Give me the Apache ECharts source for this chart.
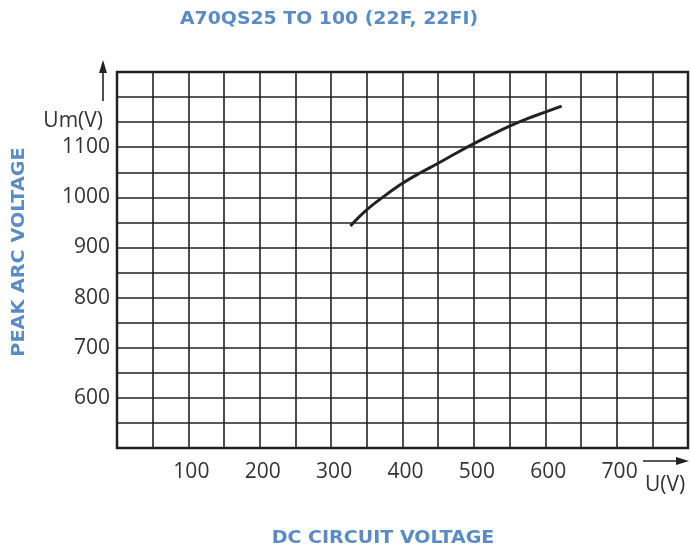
<!DOCTYPE html>
<html><head><meta charset="utf-8">
<script src="https://cdn.jsdelivr.net/npm/echarts@6/dist/echarts.min.js"></script>
<style>html,body{margin:0;padding:0;background:#fff}#c{width:691px;height:549px}</style>
</head><body><div id="c"></div>
<script>
const titleText = 'A70QS25 TO 100 (22F, 22FI)';
const xTitle = 'DC CIRCUIT VOLTAGE';
const yTitle = 'PEAK ARC VOLTAGE';
const xUnit = 'U(V)';
const yUnit = 'Um(V)';
const xTickLabels = [100, 200, 300, 400, 500, 600, 700];
const yTickLabels = [600, 700, 800, 900, 1000, 1100];
const curveU = [327, 349, 375, 400, 425, 450, 475, 500, 525, 550, 575, 600, 623];
const curveUm = [943, 974, 1003, 1028, 1049, 1068, 1088, 1107, 1125, 1142, 1157, 1170, 1182];

const blue = '#5b8bc5';
const ink = '#222';
const font = 'Open Sans';
const titleFont = 'bold 17px "DejaVu Sans"';
const chart = echarts.init(document.getElementById('c'));
chart.setOption({
  animation: false,
  backgroundColor: '#fff',
  grid: { left: 117, right: 3, top: 72, bottom: 101, show: true, borderColor: ink, borderWidth: 2.5, backgroundColor: 'transparent' },
  xAxis: { type: 'value', min: 0, max: 800, interval: 50,
    axisLine: { show: false }, axisTick: { show: false },
    splitLine: { show: true, lineStyle: { color: ink, width: 1.6 } },
    axisLabel: { margin: 14, color: '#333', fontFamily: font, fontSize: 21, padding: [0, 0, 0, 6],
      formatter: v => xTickLabels.includes(v) ? String(v) : '' } },
  yAxis: { type: 'value', min: 500, max: 1250, interval: 50,
    axisLine: { show: false }, axisTick: { show: false },
    splitLine: { show: true, lineStyle: { color: ink, width: 1.6 } },
    axisLabel: { margin: 7, color: '#333', fontFamily: font, fontSize: 21, padding: [0, 0, 3, 0],
      formatter: v => yTickLabels.includes(v) ? String(v) : '' } },
  series: [{ type: 'line', smooth: 0.4, showSymbol: false,
    lineStyle: { color: ink, width: 3 },
    data: curveU.map((u, i) => [u, curveUm[i]]) }],
  graphic: [
    { type: 'text', x: 329, y: 20, scaleX: 1.11, style: { text: titleText, fill: blue, font: titleFont, textAlign: 'center', textVerticalAlign: 'middle' } },
    { type: 'text', x: 383, y: 539, scaleX: 1.12, style: { text: xTitle, fill: blue, font: titleFont, textAlign: 'center', textVerticalAlign: 'middle' } },
    { type: 'text', x: 20, y: 252, rotation: Math.PI / 2, scaleX: 1.13, style: { text: yTitle, fill: blue, font: titleFont, textAlign: 'center', textVerticalAlign: 'middle' } },
    { type: 'text', x: 103, y: 121, style: { text: yUnit, fill: '#333', font: '21px "Open Sans"', textAlign: 'right', textVerticalAlign: 'middle' } },
    { type: 'text', x: 665, y: 485, style: { text: xUnit, fill: '#333', font: '21px "Open Sans"', textAlign: 'center', textVerticalAlign: 'middle' } },
    { type: 'line', shape: { x1: 103, y1: 101, x2: 103, y2: 70 }, style: { stroke: ink, lineWidth: 1.6 } },
    { type: 'polygon', shape: { points: [[103, 60], [99, 73], [107, 73]] }, style: { fill: ink } },
    { type: 'line', shape: { x1: 643, y1: 461, x2: 678, y2: 461 }, style: { stroke: ink, lineWidth: 1.6 } },
    { type: 'polygon', shape: { points: [[689, 461], [676, 457], [676, 465]] }, style: { fill: ink } }
  ]
});
</script></body></html>
